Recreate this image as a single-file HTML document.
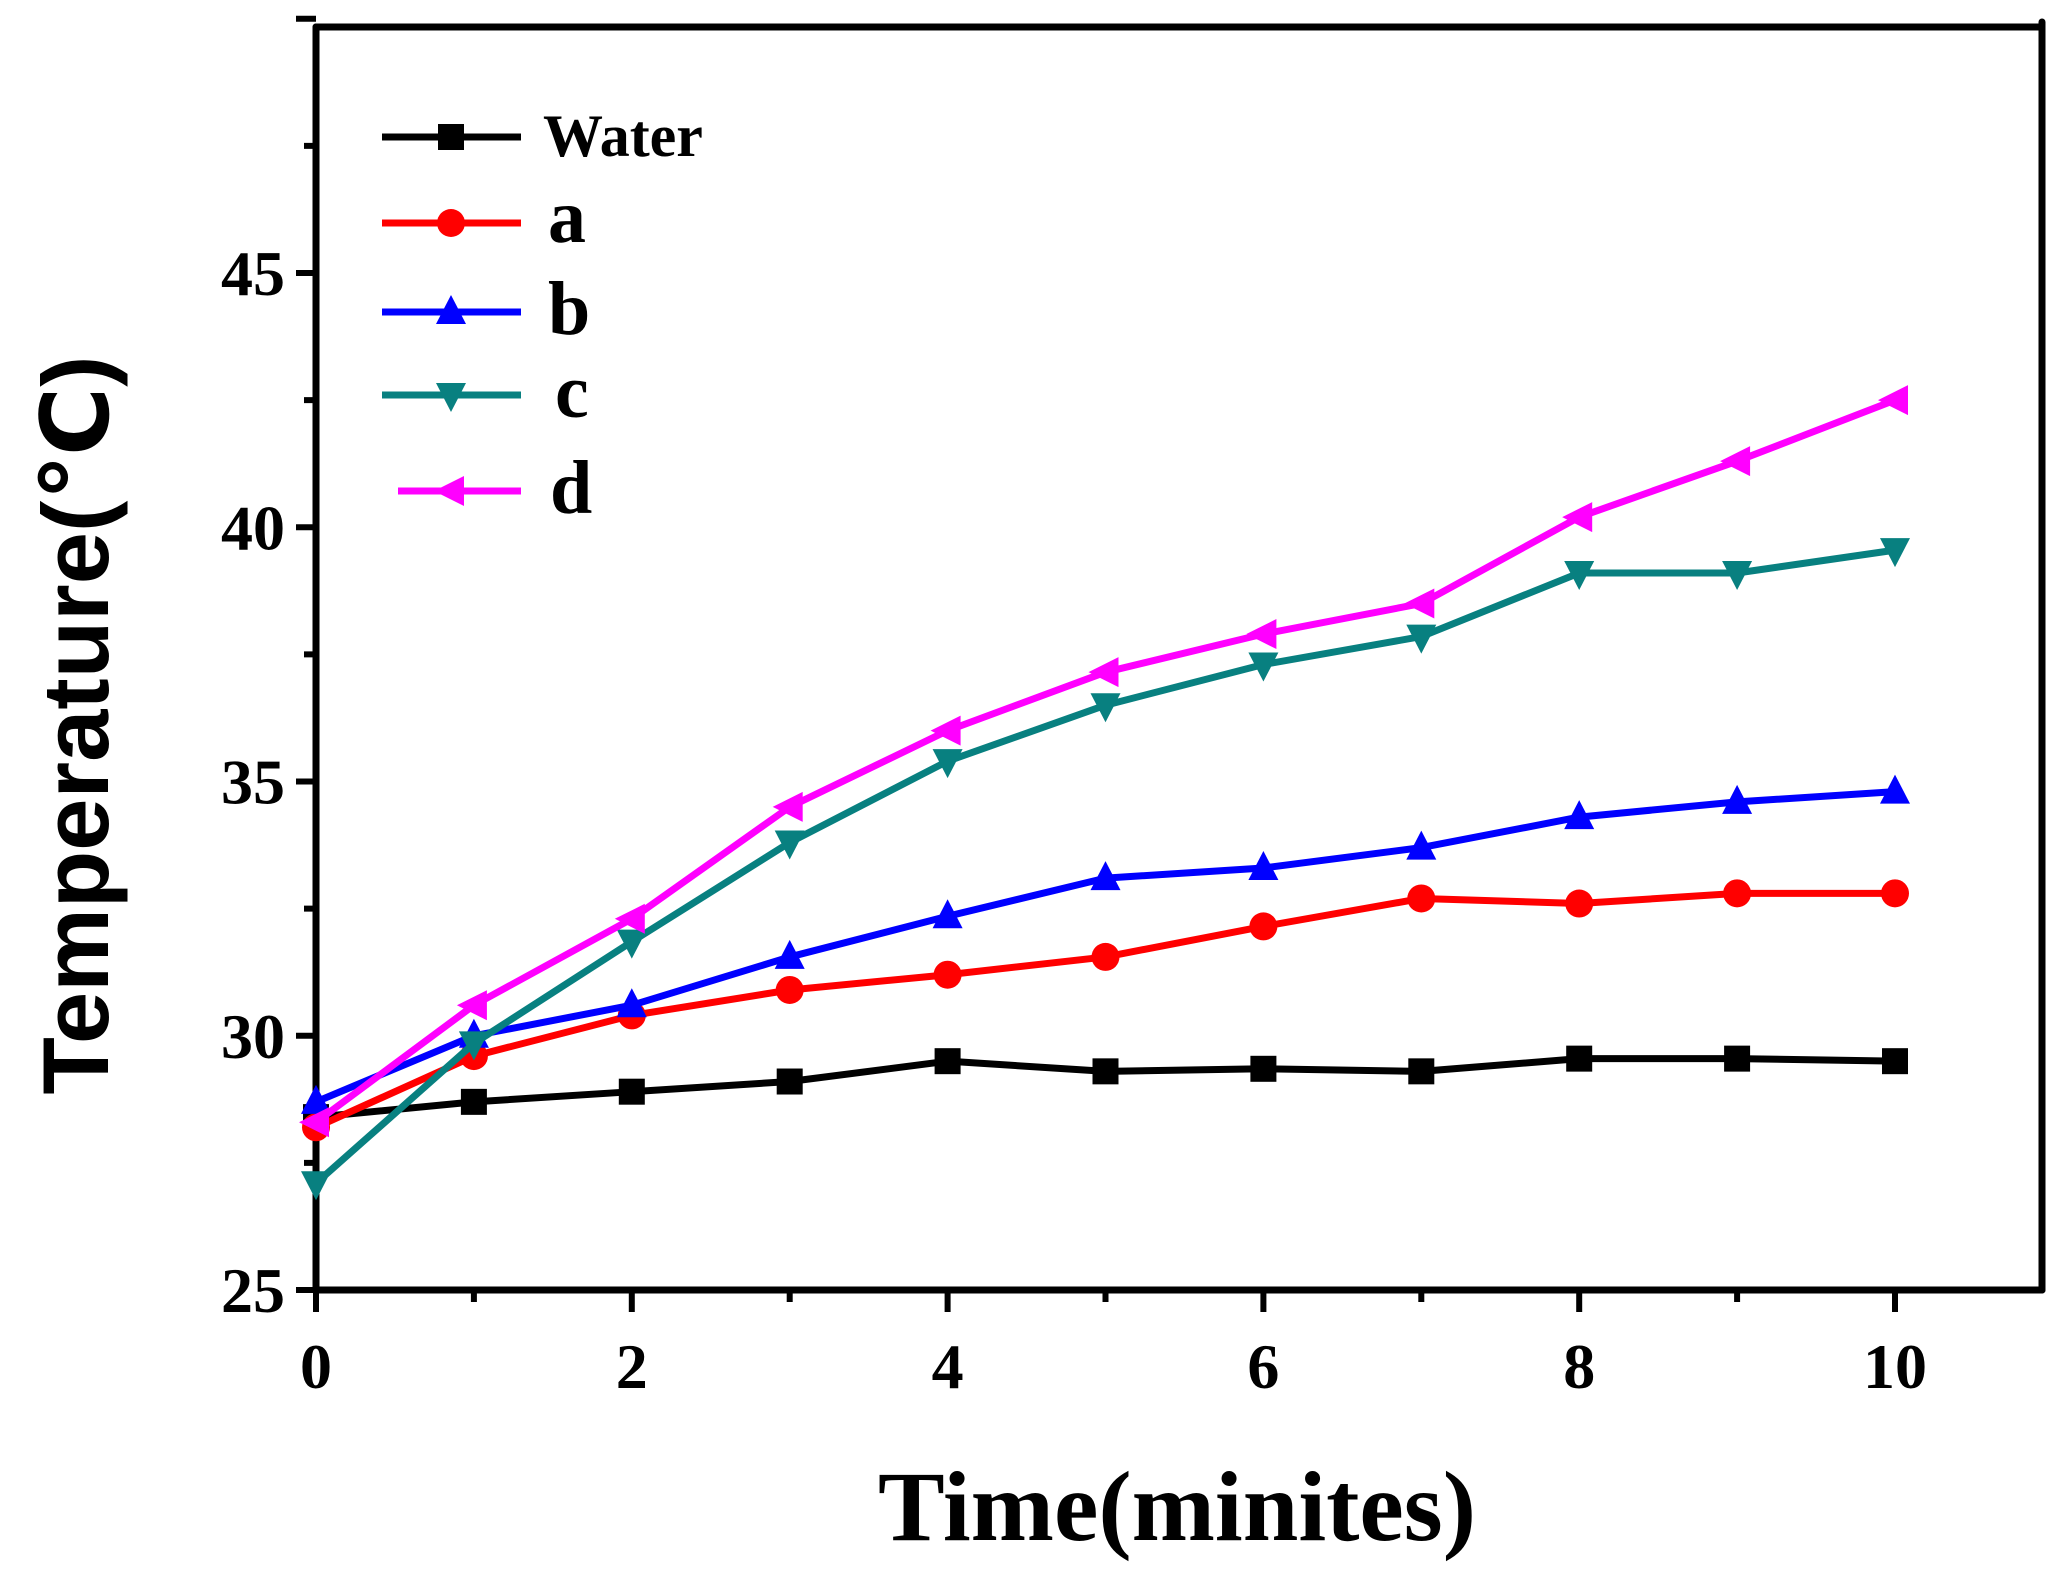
<!DOCTYPE html>
<html><head><meta charset="utf-8"><style>html,body{margin:0;padding:0;background:#fff}svg{display:block}</style></head><body>
<svg width="2067" height="1578" viewBox="0 0 2067 1578" xmlns="http://www.w3.org/2000/svg">
<defs>
<g id="sq"><rect x="-13" y="-13" width="26" height="26"/></g>
<g id="ci"><circle r="14"/></g>
<g id="tu"><polygon points="0,-17 15,12 -15,12"/></g>
<g id="td"><polygon points="0,17 15,-12 -15,-12"/></g>
<g id="tl"><polygon points="-17,0 13,-15 13,15"/></g>
</defs>
<g stroke="#000" stroke-width="7" fill="none" stroke-linecap="round">
<line x1="316" y1="27" x2="316" y2="1290"/>
<line x1="316" y1="1290" x2="2042" y2="1290"/>
<line x1="316" y1="27" x2="2042" y2="27"/>
<line x1="2042" y1="22" x2="2042" y2="1290"/>
</g>
<g id="ticks" stroke="#000" stroke-width="6"></g>
<g font-family="Liberation Serif, serif" font-weight="bold" font-size="64" fill="#000">
<g text-anchor="end" id="ylab"></g>
<g text-anchor="middle" id="xlab"></g>
<text x="1177" y="1540" font-size="100" text-anchor="middle">Time(minites)</text>
</g>
<text transform="translate(108,725) rotate(-90)" text-anchor="middle" font-family="Liberation Sans, DejaVu Sans, sans-serif" font-weight="bold" font-size="94">Temperature(℃)</text>
<g id="series"></g>
<g font-family="Liberation Serif, serif" font-weight="bold">
<line x1="382" y1="137" x2="521" y2="137" stroke="#000" stroke-width="7"/><use href="#sq" x="451" y="137" fill="#000"/>
<text x="543" y="156" font-size="60">Water</text>
<line x1="382" y1="223" x2="521" y2="223" stroke="#f00" stroke-width="7"/><use href="#ci" x="451" y="223" fill="#f00"/>
<text x="548" y="242" font-size="76">a</text>
<line x1="382" y1="312" x2="521" y2="312" stroke="#00f" stroke-width="7"/><use href="#tu" x="451" y="312" fill="#00f"/>
<text x="548" y="334" font-size="76">b</text>
<line x1="382" y1="395" x2="521" y2="395" stroke="#088080" stroke-width="7"/><use href="#td" x="451" y="395" fill="#088080"/>
<text x="555" y="417" font-size="76">c</text>
<line x1="398" y1="491" x2="521" y2="491" stroke="#f0f" stroke-width="7"/><use href="#tl" x="451" y="491" fill="#f0f"/>
<text x="550" y="513" font-size="76">d</text>
</g>
</svg>
<script>
const NS="http://www.w3.org/2000/svg";
const X=t=>316+157.9*t, Y=v=>1290-50.85*(v-25);
function el(p,tag,a,txt){const e=document.createElementNS(NS,tag);for(const k in a)e.setAttribute(k,a[k]);if(txt!==undefined)e.textContent=txt;p.appendChild(e);return e;}
const tk=document.getElementById('ticks'),yl=document.getElementById('ylab'),xl=document.getElementById('xlab');
for(let v=25;v<=50;v+=2.5){const y=Y(v),maj=(v%5===0);el(tk,'line',{x1:316,x2:maj?296:304,y1:y,y2:y});
 if(maj&&v<50)el(yl,'text',{x:285,y:y+22},String(v));}
for(let t=0;t<=10.9;t++){const x=X(t);el(tk,'line',{x1:x,x2:x,y1:1290,y2:t%2===0?1312:1302});
 if(t%2===0)el(xl,'text',{x:x,y:1388},String(t));}
const S=[
["#000","sq",[28.4,28.7,28.9,29.1,29.5,29.3,29.35,29.3,29.55,29.55,29.5]],
["#f00","ci",[28.2,29.6,30.4,30.9,31.2,31.55,32.15,32.7,32.6,32.8,32.8]],
["#00f","tu",[28.7,30.0,30.6,31.55,32.35,33.1,33.3,33.7,34.3,34.6,34.8]],
["#088080","td",[27.1,29.85,31.85,33.8,35.4,36.5,37.3,37.85,39.1,39.1,39.55]],
["#f0f","tl",[28.3,30.6,32.3,34.5,36.0,37.15,37.9,38.5,40.2,41.3,42.5]]];
const sg=document.getElementById('series');
S.forEach(([c,m,d])=>{el(sg,'polyline',{points:d.map((v,i)=>X(i)+','+Y(v)).join(' '),fill:'none',stroke:c,'stroke-width':7,'stroke-linejoin':'round'});
 d.forEach((v,i)=>el(sg,'use',{href:'#'+m,x:X(i),y:Y(v),fill:c}));});
</script>
</body></html>
